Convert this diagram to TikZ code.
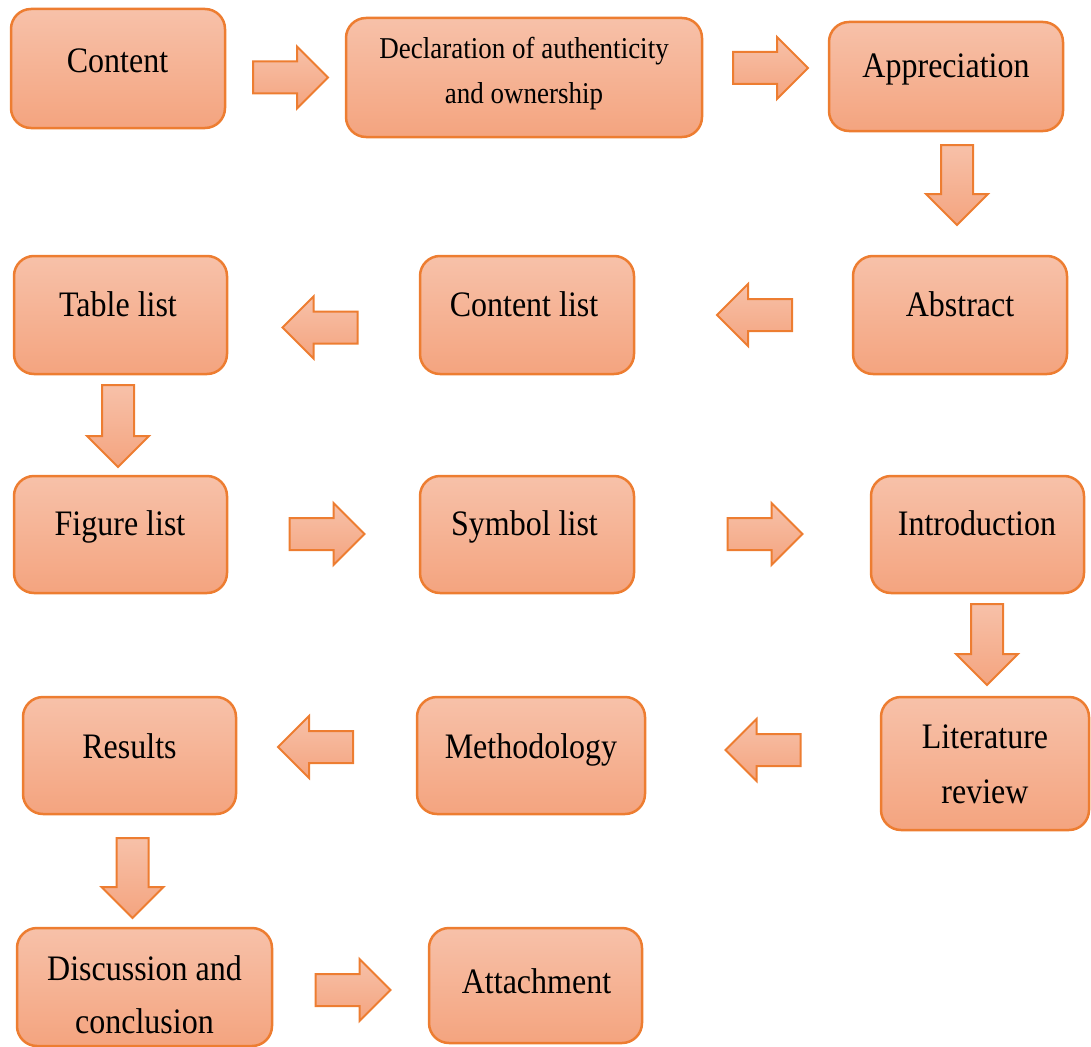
\documentclass[tikz,border=0pt]{standalone}
\usepackage{fontspec}
\setmainfont{Liberation Serif}
\usetikzlibrary{shapes.arrows}
\definecolor{boxline}{HTML}{ED7D31}
\definecolor{filltop}{HTML}{F7C1A9}
\definecolor{fillbot}{HTML}{F4A47F}
\newcommand\tx[1]{\scalebox{1}[1.12]{#1}}
\begin{document}
\begin{tikzpicture}[x=1pt,y=-1pt,
  stepbox/.style={draw=boxline, line width=2.5pt, rounded corners=20pt,
    top color=filltop, bottom color=fillbot, inner sep=0pt},
  lbl/.style={anchor=base, inner sep=0pt, font=\fontsize{32}{40}\selectfont},
  lbl2/.style={anchor=center, inner sep=0pt, align=center},
  barrow/.style={single arrow, draw=boxline, line width=2pt,
    top color=filltop, bottom color=fillbot, minimum height=75pt,
    minimum width=60pt, single arrow head extend=15pt, inner sep=0pt,
    text height=15pt, text depth=15pt, text width=30pt}]
\useasboundingbox (0,0) rectangle (1091,1046);
% boxes
\node[stepbox, minimum width=214pt, minimum height=119pt] (b1) at (118,68.5) {};
\node[stepbox, minimum width=356pt, minimum height=119pt] (b2) at (524,77.5) {};
\node[stepbox, minimum width=234pt, minimum height=109pt] (b3) at (946,76.5) {};
\node[stepbox, minimum width=214pt, minimum height=118pt] (b4) at (960,315) {};
\node[stepbox, minimum width=214pt, minimum height=118pt] (b5) at (527,315) {};
\node[stepbox, minimum width=213pt, minimum height=118pt] (b6) at (120.5,315) {};
\node[stepbox, minimum width=213pt, minimum height=117pt] (b7) at (120.5,534.5) {};
\node[stepbox, minimum width=214pt, minimum height=117pt] (b8) at (527,534.5) {};
\node[stepbox, minimum width=213pt, minimum height=117pt] (b9) at (977.5,534.5) {};
\node[stepbox, minimum width=208pt, minimum height=133pt] (b10) at (985,763.5) {};
\node[stepbox, minimum width=228pt, minimum height=117pt] (b11) at (531,755.5) {};
\node[stepbox, minimum width=213pt, minimum height=117pt] (b12) at (129.5,755.5) {};
\node[stepbox, minimum width=255pt, minimum height=118pt] (b13) at (144.5,987) {};
\node[stepbox, minimum width=213pt, minimum height=115pt] (b14) at (535.5,985.5) {};
% labels
\node[lbl] (t1) at (117.5,73) {\tx{Content}};
\node[lbl2, font=\fontsize{27}{45}\selectfont] (t2) at (524,74) {\tx{Declaration of authenticity}\\\tx{and ownership}};
\node[lbl] (t3) at (946,78) {\tx{Appreciation}};
\node[lbl] (t4) at (960,316) {\tx{Abstract}};
\node[lbl] (t5) at (524,316) {\tx{Content list}};
\node[lbl] (t6) at (118,316) {\tx{Table list}};
\node[lbl] (t7) at (120,535) {\tx{Figure list}};
\node[lbl] (t8) at (524.5,535) {\tx{Symbol list}};
\node[lbl] (t9) at (977,535) {\tx{Introduction}};
\node[lbl2, font=\fontsize{32}{55}\selectfont] (t10) at (985,764) {\tx{Literature}\\\tx{review}};
\node[lbl] (t11) at (531,758) {\tx{Methodology}};
\node[lbl] (t12) at (129.5,758) {\tx{Results}};
\node[lbl2, font=\fontsize{32}{53}\selectfont] (t13) at (144.5,995) {\tx{Discussion and}\\\tx{conclusion}};
\node[lbl] (t14) at (536.5,993) {\tx{Attachment}};
% block arrows
\node[barrow] (a1) at (282.5,77.5) {};
\node[barrow] (a2) at (762.5,68) {};
\node[barrow, shape border rotate=270, minimum height=80pt] (a3) at (957,177) {};
\node[barrow, shape border rotate=180] (a4) at (762.5,315) {};
\node[barrow, shape border rotate=180] (a5) at (328,327.5) {};
\node[barrow, shape border rotate=270, minimum height=82pt] (a6) at (118,418) {};
\node[barrow] (a7) at (319,534) {};
\node[barrow] (a8) at (757,534) {};
\node[barrow, shape border rotate=270, minimum height=81pt] (a9) at (987,636.5) {};
\node[barrow, shape border rotate=180] (a10) at (771,750) {};
\node[barrow, shape border rotate=180] (a11) at (323.5,747) {};
\node[barrow, shape border rotate=270, minimum height=80pt] (a12) at (132.5,870) {};
\node[barrow] (a13) at (345,990) {};
\end{tikzpicture}
\end{document}
